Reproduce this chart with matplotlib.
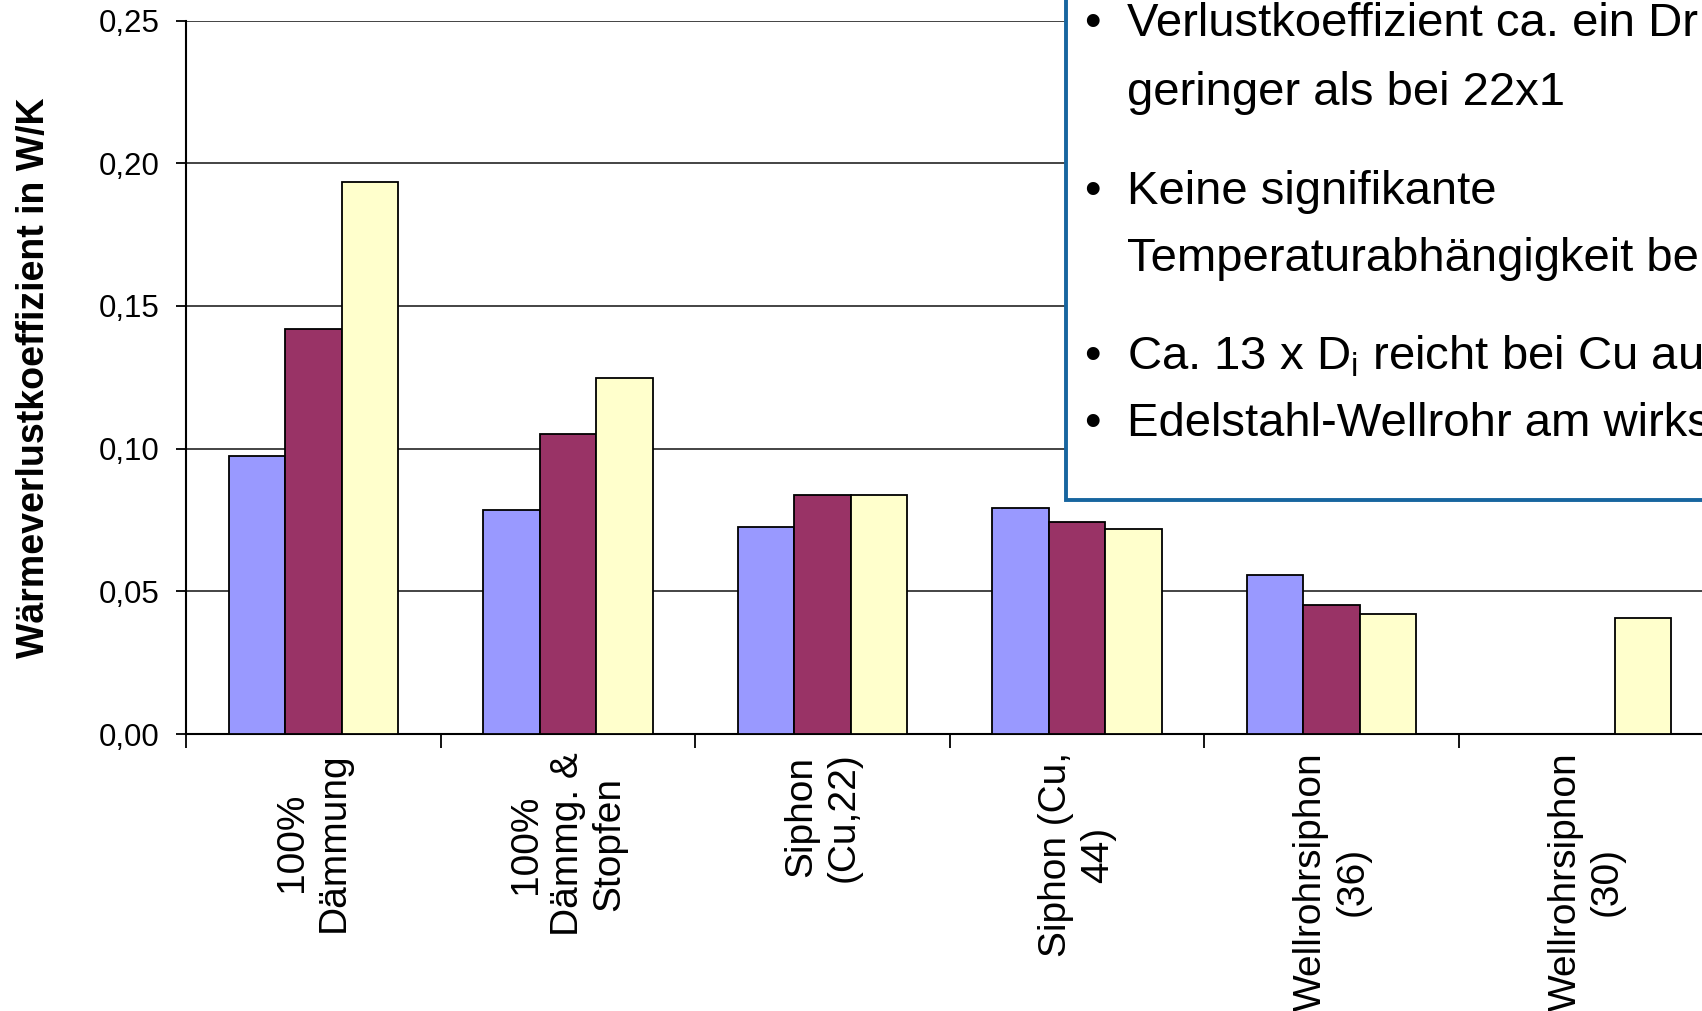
import matplotlib
matplotlib.use('Agg')
import matplotlib.pyplot as plt
from matplotlib.patches import Rectangle
from matplotlib.ticker import FuncFormatter, FixedLocator
import numpy as np

plt.rcParams['font.family'] = ['Liberation Sans', 'DejaVu Sans']
plt.rcParams['mathtext.default'] = 'regular'

# data
categories = ['100%\nDämmung', '100%\nDämmg. &\nStopfen', 'Siphon\n(Cu,22)',
              'Siphon (Cu,\n44)', 'Wellrohrsiphon\n(36)', 'Wellrohrsiphon\n(30)']
series_a = [0.0974, 0.0784, 0.0727, 0.0791, 0.0556, np.nan]
series_b = [0.1419, 0.1050, 0.0837, 0.0742, 0.0453, np.nan]
series_c = [0.1933, 0.1248, 0.0837, 0.0719, 0.0419, 0.0407]
colors = ['#9999FF', '#993366', '#FFFFCC']
y_ticks = [0.00, 0.05, 0.10, 0.15, 0.20, 0.25]

bullet_lines = [
    ('•', 'Verlustkoeffizient ca. ein Dr'),
    ('', 'geringer als bei 22x1'),
    ('•', 'Keine signifikante'),
    ('', 'Temperaturabhängigkeit be'),
    ('•', r'Ca. 13 x $\mathregular{D_i}$ reicht bei Cu au'),
    ('•', 'Edelstahl-Wellrohr am wirks'),
]

W, H = 1702, 1011
fig = plt.figure(figsize=(W / 100, H / 100), dpi=100)
# plot area runs past the right edge like in the cropped original
ax = fig.add_axes([186 / W, 1 - 734 / H, 1527.6 / W, 713.4 / H])

x = np.arange(len(categories))
bw = 0.222
for i, (vals, c) in enumerate(zip([series_a, series_b, series_c], colors)):
    ax.bar(x + (i - 1) * bw, vals, bw, color=c, edgecolor='black', linewidth=1.3, zorder=3)

ax.set_xlim(-0.5, len(categories) - 0.5)
ax.set_ylim(0, 0.25)
ax.yaxis.set_major_locator(FixedLocator(y_ticks))
ax.yaxis.set_major_formatter(FuncFormatter(lambda v, p: f'{v:.2f}'.replace('.', ',')))
ax.grid(axis='y', color='#111111', linewidth=1.1, zorder=0)
ax.tick_params(axis='y', direction='out', length=7, width=1.3, labelsize=22.5, pad=12)

ax.set_xticks(np.arange(len(categories) + 1) - 0.5)
ax.set_xticklabels([])
ax.set_xticks(x, minor=True)
ax.set_xticklabels(categories, minor=True, rotation=90, ha='center', va='top',
                   multialignment='center', fontsize=28, linespacing=1.2)
ax.tick_params(axis='x', which='major', direction='out', length=10, width=1.3)
ax.tick_params(axis='x', which='minor', length=0, pad=13)

for s in ['top', 'right']:
    ax.spines[s].set_visible(False)
for s in ['left', 'bottom']:
    ax.spines[s].set_linewidth(1.5)

ax.set_ylabel('Wärmeverlustkoeffizient in W/K', fontsize=27, fontweight='bold')
ax.yaxis.set_label_coords(-0.088, 0.5)

# text box over the upper right of the chart
box = Rectangle((1066 / W, 1 - 500 / H), 0.5, 0.6, transform=fig.transFigure,
                facecolor='white', edgecolor='#17659f', linewidth=2.8, zorder=10)
fig.add_artist(box)
baselines = [36, 105, 204, 271, 369, 436]
for (b, t), yb in zip(bullet_lines, baselines):
    if b:
        fig.text(1084 / W, 1 - yb / H, b, fontsize=34, va='baseline', ha='left', zorder=11)
    fig.text(1127 / W, 1 - yb / H, t, fontsize=34, va='baseline', ha='left', zorder=11)

fig.savefig('out.png', dpi=100)
